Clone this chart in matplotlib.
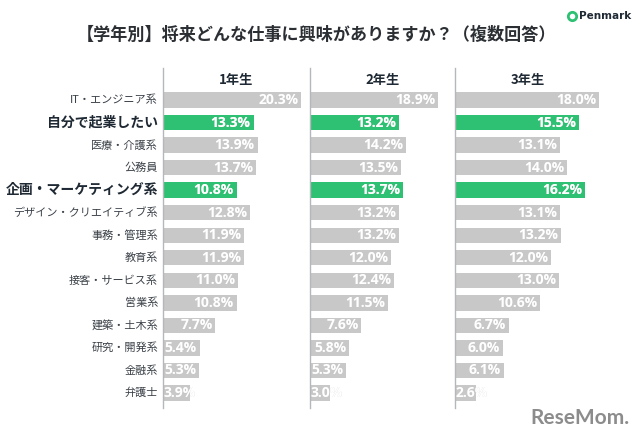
import matplotlib
matplotlib.use("Agg")
import matplotlib.pyplot as plt
from matplotlib.patches import Rectangle

plt.rcParams["font.family"] = ["Noto Sans CJK JP", "DejaVu Sans"]

# data
categories = [
    "IT・エンジニア系", "自分で起業したい", "医療・介護系", "公務員",
    "企画・マーケティング系", "デザイン・クリエイティブ系", "事務・管理系",
    "教育系", "接客・サービス系", "営業系", "建築・土木系", "研究・開発系",
    "金融系", "弁護士",
]
highlight = ["自分で起業したい", "企画・マーケティング系"]
grades = ["1年生", "2年生", "3年生"]
grade1 = [20.3, 13.3, 13.9, 13.7, 10.8, 12.8, 11.9, 11.9, 11.0, 10.8, 7.7, 5.4, 5.3, 3.9]
grade2 = [18.9, 13.2, 14.2, 13.5, 13.7, 13.2, 13.2, 12.0, 12.4, 11.5, 7.6, 5.8, 5.3, 3.0]
grade3 = [18.0, 15.5, 13.1, 14.0, 16.2, 13.1, 13.2, 12.0, 13.0, 10.6, 6.7, 6.0, 6.1, 2.6]

GRAY = "#c8c8c8"
GREEN = "#2ec173"
AXIS = "#b4b8bd"
TEXT = "#3b4148"
DARK = "#1f2933"

W, H = 640, 444
fig = plt.figure(figsize=(W / 100, H / 100), dpi=100)

# panel geometry in pixels: left, width, xmax
panels = [(163, 147, 21.6), (310, 145, 21.4), (455, 145, 18.1)]
top_px, bot_px = 68, 408
n = len(categories)

for gi, (vals, (left, width, xmax)) in enumerate(zip([grade1, grade2, grade3], panels)):
    ax = fig.add_axes([left / W, 1 - bot_px / H, width / W, (bot_px - top_px) / H])
    ax.set_xlim(0, xmax)
    ax.set_ylim(n - 1 + 0.665, -1.42)
    for s in ["top", "right", "bottom"]:
        ax.spines[s].set_visible(False)
    ax.spines["left"].set_color(AXIS)
    ax.spines["left"].set_linewidth(1.0)
    ax.set_xticks([])
    ax.set_yticks([])
    ax.patch.set_alpha(0)

    for i, (cat, v) in enumerate(zip(categories, vals)):
        color = GREEN if cat in highlight else GRAY
        rect = Rectangle((0, i - 0.34), v, 0.68, facecolor=color, edgecolor="none")
        ax.add_patch(rect)
        label = f"{v:.1f}%"
        if v < 4.5:
            x, ha = xmax * 0.004, "left"
        else:
            x, ha = v - xmax * 0.02, "right"
        # overflow part light gray, inside part white
        ax.text(x, i, label, ha=ha, va="center", fontsize=10, fontweight="bold",
                family=["Open Sans", "DejaVu Sans"], color="#d4d4d4")
        t = ax.text(x, i, label, ha=ha, va="center", fontsize=10, fontweight="bold",
                    family=["Open Sans", "DejaVu Sans"], color="white")
        t.set_clip_path(rect)

    ax.text(xmax / 2, -0.9, grades[gi], ha="center", va="center",
            fontsize=9.5, fontweight="bold", color=DARK)

    if gi == 0:
        for i, cat in enumerate(categories):
            if cat in highlight:
                ax.text(-xmax * 0.034, i, cat, ha="right", va="center",
                        fontsize=10, fontweight="bold", color=DARK)
            else:
                ax.text(-xmax * 0.034, i, cat, ha="right", va="center",
                        fontsize=8, color=TEXT)

fig.text(317 / W, 1 - 35 / H, "【学年別】将来どんな仕事に興味がありますか？（複数回答）",
         ha="center", va="center", fontsize=12.3, fontweight="bold", color="#2b2f33")

# logos
fig.text(579 / W, 1 - 16 / H, "Penmark", ha="left", va="center",
         fontsize=7.5, fontweight="bold", color=DARK, family=["DejaVu Sans"])
fig.add_artist(plt.Line2D([572 / W], [1 - 16 / H], marker="o", markersize=6,
                          markerfacecolor="white", markeredgecolor=GREEN,
                          markeredgewidth=2, transform=fig.transFigure))
fig.text(629 / W, 1 - 418 / H, "ReseMom.", ha="right", va="center",
         fontsize=15, fontweight="bold", color="#8c8c8c", family=["Lato", "DejaVu Sans"])

fig.savefig("out.png", dpi=100, facecolor="white")
